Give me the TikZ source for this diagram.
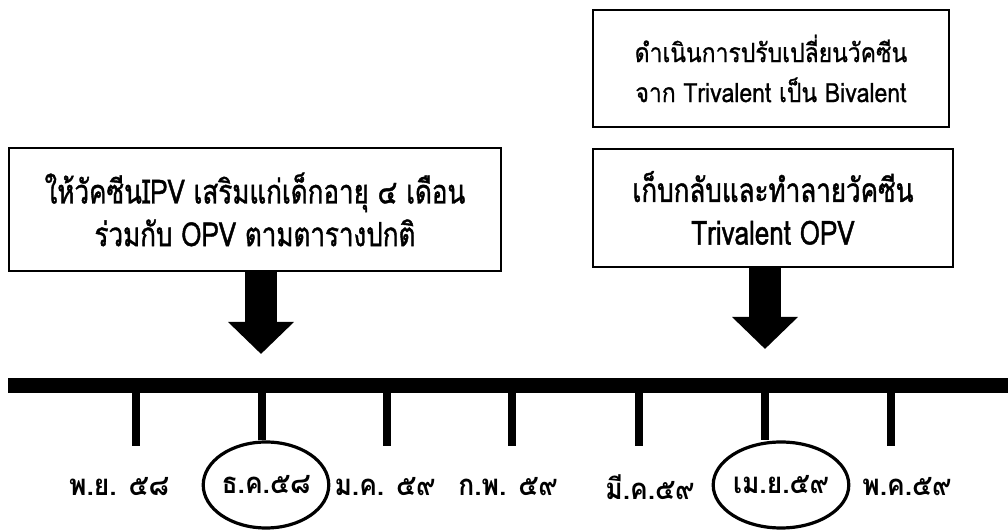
\documentclass[tikz,border=0pt]{standalone}
\usepackage{fontspec}
\newfontfamily\thaibox[Script=Thai,FakeStretch=0.78,FakeBold=1.2]{Loma}
\newfontfamily\thaitop[Script=Thai,FakeStretch=0.86,FakeBold=0.8]{Loma}
\newfontfamily\thailab[Script=Thai,FakeStretch=0.9]{Loma Bold}
\usetikzlibrary{arrows.meta,shapes.geometric}
\begin{document}
\begin{tikzpicture}[x=0.75pt,y=-0.75pt,
  boxstyle/.style={draw,line width=1.3pt,align=center,inner sep=0pt,font=\thaibox\fontsize{25}{32}\selectfont},
  topbox/.style={boxstyle,font=\thaitop\fontsize{20}{30}\selectfont},
  fatarrow/.style={line width=23.5pt,-{Triangle[width=48pt,length=24pt]}},
  tickline/.style={line width=6pt},
  monthlab/.style={font=\thailab\fontsize{22}{24}\selectfont,inner sep=0pt},
  ringed/.style={ellipse,draw,line width=2.4pt,minimum width=81pt,minimum height=64.5pt,inner sep=0pt}
]
\useasboundingbox (0,0) rectangle (1008,530);
% boxes
\node[boxstyle,minimum width=369pt,minimum height=92.25pt] (lbox) at (255,209.5)
  {ให้วัคซีนIPV เสริมแก่เด็กอายุ ๔ เดือน\\ร่วมกับ OPV ตามตารางปกติ};
\node[topbox,minimum width=267pt,minimum height=87.75pt] (tbox) at (771,68.5)
  {ดำเนินการปรับเปลี่ยนวัคซีน\\จาก Trivalent เป็น Bivalent};
\node[boxstyle,minimum width=270pt,minimum height=88.5pt] (rbox) at (773,208)
  {เก็บกลับและทำลายวัคซีน\\Trivalent OPV};
% arrows
\coordinate (ltip) at (261,354);
\coordinate (rtip) at (765,349);
\draw[fatarrow] (lbox.south -| ltip) -- (ltip);
\draw[fatarrow] (rbox.south -| rtip) -- (rtip);
% timeline bar
\fill (8,378) rectangle (1008,393);
% month labels
\node[monthlab] (m1) at (119,487) {พ.ย. ๕๘};
\node[monthlab,ringed] (m2) at (266,485) {ธ.ค.๕๘};
\node[monthlab] (m3) at (385,487) {ม.ค. ๕๙};
\node[monthlab] (m4) at (508,487) {ก.พ. ๕๙};
\node[monthlab] (m5) at (650,487) {มี.ค.๕๙};
\node[monthlab,ringed,minimum width=96pt] (m6) at (781,485) {เม.ย.๕๙};
\node[monthlab] (m7) at (907,487) {พ.ค.๕๙};
% ticks
\foreach \x/\n in {136/1,387/3,512/4,639/5,891/7}{
  \coordinate (t\n) at (\x,390);
  \coordinate (b\n) at (\x,446);
  \draw[tickline] (t\n) -- (b\n);
}
\coordinate (t2) at (262,390);
\coordinate (t6) at (765,390);
\draw[tickline] (t2) -- (t2 |- m2.north);
\draw[tickline] (t6) -- (t6 |- m6.north);
\end{tikzpicture}
\end{document}
